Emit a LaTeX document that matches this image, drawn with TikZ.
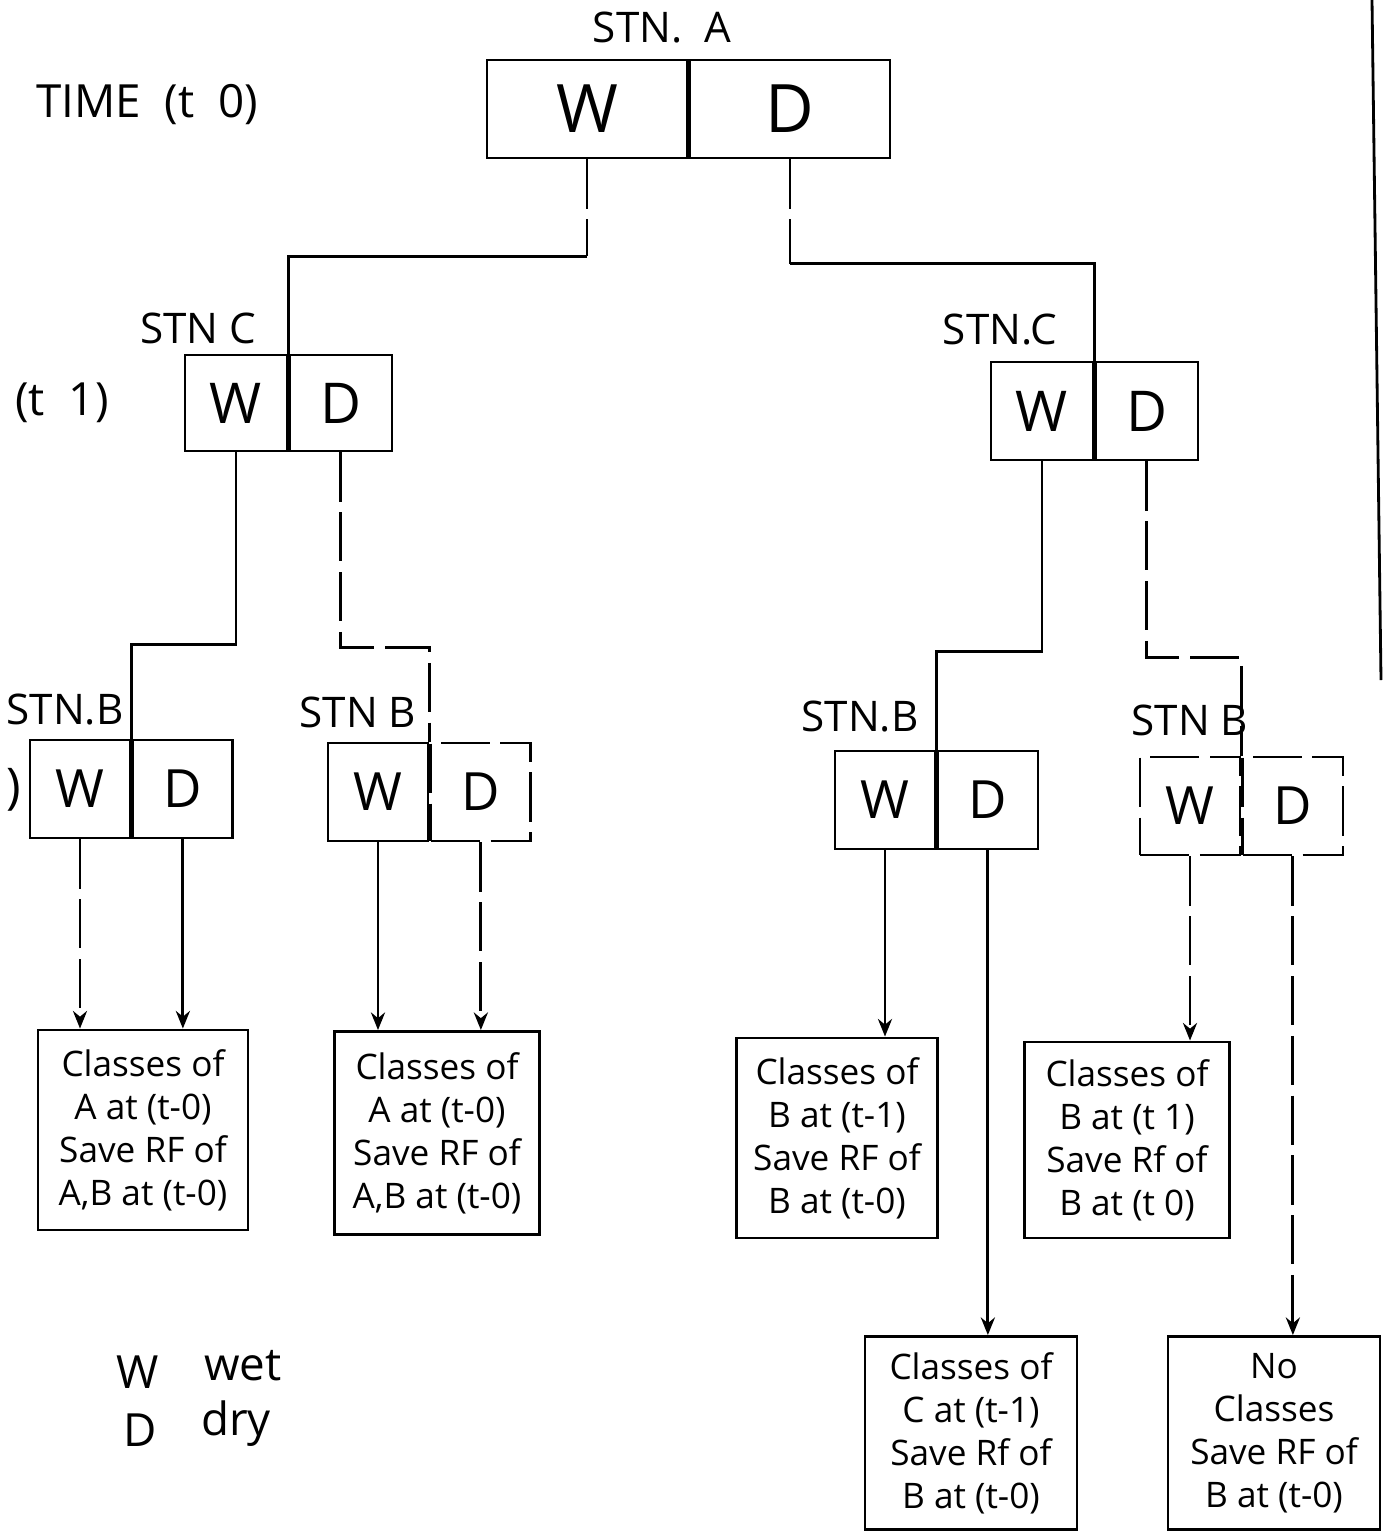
\documentclass[tikz,border=0pt]{standalone}
\usepackage{fontspec}
\setmainfont{Open Sans}
\usetikzlibrary{positioning,arrows.meta}

\tikzset{
  rowA/.style={draw, inner sep=0pt, minimum width=2cm, minimum height=0.98cm, font=\fontsize{19}{19}\selectfont},
  rowC/.style={draw, inner sep=0pt, minimum width=1.02cm, minimum height=0.96cm, font=\fontsize{16}{16}\selectfont},
  rowB/.style={draw, inner sep=0pt, minimum width=1cm, minimum height=0.98cm, font=\fontsize{15}{15}\selectfont},
  outbox/.style={draw, align=center, inner sep=0pt, minimum width=2.08cm, minimum height=1.98cm, font=\fontsize{10}{12.2}\selectfont},
  lbl/.style={font=\fontsize{12}{12}\selectfont},
  keytext/.style={font=\fontsize{13}{13}\selectfont},
  broken/.style={dash pattern=on 14pt off 3pt},
  tip/.style={-{Stealth[length=5pt,width=4pt]}}
}

\begin{document}
\begin{tikzpicture}[x=0.01cm, y=-0.01cm, line width=0.8pt]
        % \draw[help lines, gray!50, very thin] (0,0) grid[step=100] (1386,1536);
        \useasboundingbox (0,0) rectangle (1386,1536);

        % station A, time t 0
        \node[lbl] (lblA) at (662,28) {STN.\ \ A};
        \node[font=\fontsize{13}{13}\selectfont] (tT0) at (147,105) {TIME\ \ (t\ \ 0)};
        \node[rowA] (aW) at (587,109) {W};
        \node[rowA, right=0pt of aW] (aD) {D};

        % station C
        \node[lbl] (lblCL) at (198,328) {STN\ C};
        \node[font=\fontsize{13}{13}\selectfont] (tT1) at (62,403) {(t\ \ 1)};
        \node[rowC] (cLW) at (236,403) {W};
        \node[rowC, right=0pt of cLW] (cLD) {D};

        \node[lbl] (lblCR) at (1000,330) {STN.C};
        \node[rowC, minimum height=0.98cm] (cRW) at (1042,411) {W};
        \node[rowC, minimum height=0.98cm, right=0pt of cRW] (cRD) {D};

        \coordinate (jAW) at ([yshift=-0.97cm]aW.south);
        \coordinate (jAD) at ([yshift=-1.04cm]aD.south);
        \draw[broken] (aW.south) -- (jAW);
        \draw (jAW) -| (cLW.north east);
        \draw[broken] (aD.south) -- (jAD);
        \draw (jAD) -| (cRW.north east);

        % station B
        \node[font=\fontsize{14}{14}\selectfont] (tT2) at (14,790) {)};
        \node[lbl] (lblB1) at (65,710) {STN.B};
        \node[rowB] (bW1) at (80,789) {W};
        \node[rowB, right=0pt of bW1] (bD1) {D};

        \node[lbl] (lblB2) at (358,712) {STN B};
        \node[rowB] (bW2) at (378,792) {W};
        \node[rowB, broken, right=0pt of bW2] (bD2) {D};

        \node[lbl] (lblB3) at (860,717) {STN.B};
        \node[rowB] (bW3) at (885,800) {W};
        \node[rowB, right=0pt of bW3] (bD3) {D};

        \node[lbl] (lblB4) at (1190,720) {STN B};
        \node[rowB, broken] (bW4) at (1190,806) {W};
        \node[rowB, broken, right=0pt of bW4] (bD4) {D};

        \draw (cLW.south) -- ++(0,192) -| (bW1.north east);
        \draw[broken] (cLD.south) -- ++(0,195) -| (bW2.north east);
        \draw (cRW.south) -- ++(0,190) -| (bW3.north east);
        \draw[broken] (cRD.south) -- ++(0,196) -| (bW4.north east);

        % outcomes
        \node[outbox, minimum width=2.1cm, minimum height=2cm] (o1) at (143,1130) {Classes of\\A at (t-0)\\Save RF of\\A,B at (t-0)};
        \node[outbox, minimum width=2.05cm, minimum height=2.03cm] (o2) at (437,1133) {Classes of\\A at (t-0)\\Save RF of\\A,B at (t-0)};
        \node[outbox, minimum width=2.01cm, minimum height=2cm] (o3) at (837,1138) {Classes of\\B at (t-1)\\Save RF of\\B at (t-0)};
        \node[outbox, minimum width=2.05cm, minimum height=1.96cm] (o4) at (1127,1140) {Classes of\\B at (t 1)\\Save Rf of\\B at (t 0)};
        \node[outbox, minimum width=2.12cm, minimum height=1.93cm] (o5) at (971,1433) {Classes of\\C at (t-1)\\Save Rf of\\B at (t-0)};
        \node[outbox, minimum width=2.12cm, minimum height=1.93cm] (o6) at (1274,1433) {No\\Classes\\Save RF of\\B at (t-0)};

        \draw[tip, broken] (bW1.south) -- (bW1.south |- o1.north);
        \draw[tip] (bD1.south) -- (bD1.south |- o1.north);
        \draw[tip] (bW2.south) -- (bW2.south |- o2.north);
        \draw[tip, broken] (bD2.south) -- (bD2.south |- o2.north);
        \draw[tip] (bW3.south) -- (bW3.south |- o3.north);
        \draw[tip] (bD3.south) -- (bD3.south |- o5.north);
        \draw[tip, broken] (bW4.south) -- (bW4.south |- o4.north);
        \draw[tip, broken] (bD4.south) -- (bD4.south |- o6.north);

        % legend
        \node[keytext] (kW) at (138,1372) {W};
        \node[keytext] (kWt) at (243,1366) {wet};
        \node[keytext] (kD) at (140,1430) {D};
        \node[keytext] (kDt) at (236,1424) {dry};

        % page edge
        \draw (1372,0) -- (1381,680);
      \end{tikzpicture}
\end{document}
